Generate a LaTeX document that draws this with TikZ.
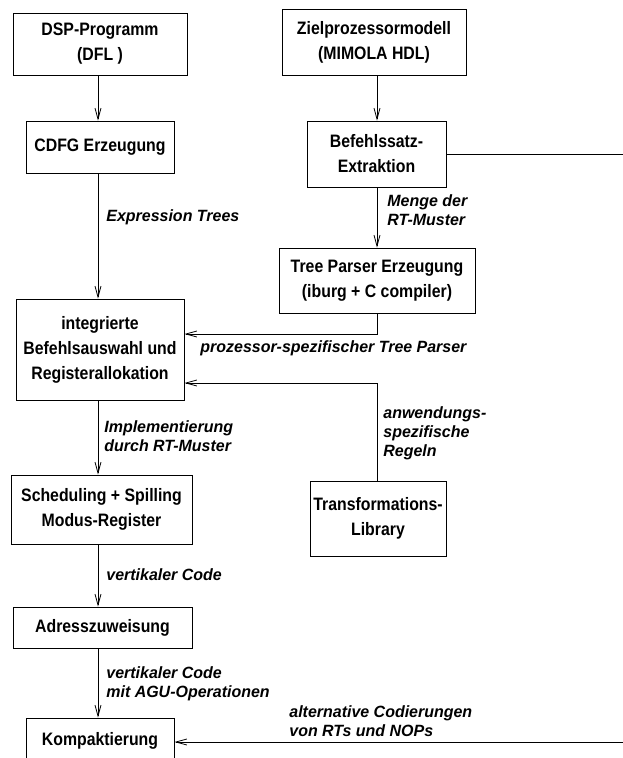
\documentclass[tikz,border=0pt]{standalone}
\usepackage{fontspec}
\setmainfont{Liberation Sans}
\newfontfamily\boxfont{Liberation Sans}[FakeStretch=0.88]
\newfontfamily\lblfont{Liberation Sans}[FakeStretch=0.98]
\usetikzlibrary{arrows.meta,calc}
\begin{document}
\begin{tikzpicture}[x=1pt,y=-1pt, line width=0.8pt,
  box/.style={draw, rectangle, align=center, inner sep=0pt,
    font=\boxfont\fontsize{18}{25}\selectfont\bfseries},
  lbl/.style={anchor=north west, align=left, inner sep=0pt,
    font=\lblfont\fontsize{16.3}{19}\selectfont\bfseries\itshape},
  arr/.style={-{Straight Barb[length=11pt,width=6pt]}}]
\useasboundingbox (0,0) rectangle (623,758);
\coordinate (colL) at (98,0);
\coordinate (colR) at (377,0);
\coordinate (edgeR) at (623,0);
\coordinate (rowA) at (0,334);
\coordinate (rowB) at (0,383);
\coordinate (rowC) at (0,742);

\node[box, minimum width=174pt, minimum height=62pt] (dsp) at (100,44) {DSP-Programm\\(DFL )};
\node[box, minimum width=184pt, minimum height=66pt] (ziel) at (374,42) {Zielprozessormodell\\(MIMOLA HDL)};
\node[box, minimum width=148pt, minimum height=52pt] (cdfg) at (100,147) {CDFG Erzeugung};
\node[box, minimum width=139pt, minimum height=66pt] (bef) at (376.5,154) {Befehlssatz-\\Extraktion};
\node[box, minimum width=196pt, minimum height=65pt] (tree) at (377,280.5) {Tree Parser Erzeugung\\(iburg + C compiler)};
\node[box, minimum width=168pt, minimum height=101pt] (integ) at (100,349.5) {integrierte\\Befehlsauswahl und\\Registerallokation};
\node[box, minimum width=181pt, minimum height=69pt] (sched) at (101.5,509.5) {Scheduling + Spilling\\Modus-Register};
\node[box, minimum width=136pt, minimum height=75pt] (trans) at (378,518.5) {Transformations-\\Library};
\node[box, minimum width=179pt, minimum height=41pt] (adr) at (102.5,627.5) {Adresszuweisung};
\node[box, minimum width=148pt, minimum height=46pt] (komp) at (100,741) {Kompaktierung};

\draw[arr] (dsp.south -| colL) -- (cdfg.north -| colL);
\draw[arr] (cdfg.south -| colL) -- (integ.north -| colL);
\draw[arr] (integ.south -| colL) -- (sched.north -| colL);
\draw[arr] (sched.south -| colL) -- (adr.north -| colL);
\draw[arr] (adr.south -| colL) -- (komp.north -| colL);

\draw[arr] (ziel.south -| colR) -- (bef.north -| colR);
\draw[arr] (bef.south -| colR) -- (tree.north -| colR);
\draw[arr] (tree.south -| colR) |- (integ.east |- rowA);
\draw[arr] (trans.north -| colR) |- (integ.east |- rowB);
\draw (bef.east) -- (bef.east -| edgeR);
\draw[arr] (edgeR |- rowC) -- (komp.east |- rowC);

\node[lbl] (l1) at (106,209) {Expression Trees};
\node[lbl] (l2) at (387,194) {Menge der\\RT-Muster};
\node[lbl] (l3) at (200,340) {prozessor-spezifischer Tree Parser};
\node[lbl] (l4) at (104,420) {Implementierung\\durch RT-Muster};
\node[lbl] (l5) at (383,406) {anwendungs-\\spezifische\\Regeln};
\node[lbl] (l6) at (106,568) {vertikaler Code};
\node[lbl] (l7) at (106,666) {vertikaler Code\\mit AGU-Operationen};
\node[lbl] (l8) at (289,705) {alternative Codierungen\\von RTs und NOPs};
\end{tikzpicture}
\end{document}
